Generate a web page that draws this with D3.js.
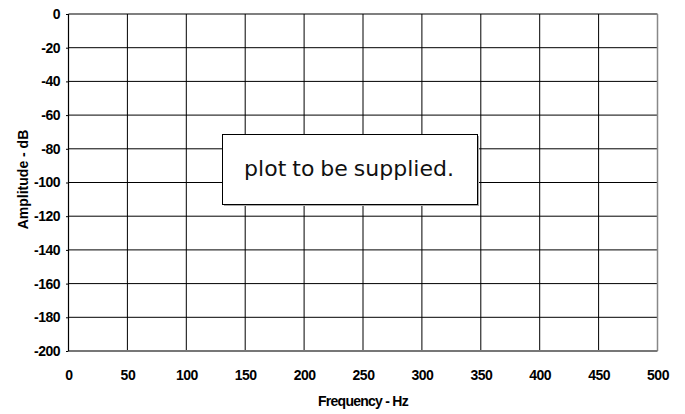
<!DOCTYPE html>
<html><head><meta charset="utf-8">
<script src="https://cdn.jsdelivr.net/npm/d3@7"></script>
<style>
body{margin:0;background:#fff;}
text{font-family:"Liberation Sans",Arial,sans-serif;}
</style></head>
<body><svg id="c" width="685" height="414"></svg>
<script>
const xTicks = [0,50,100,150,200,250,300,350,400,450,500];
const yTicks = [0,-20,-40,-60,-80,-100,-120,-140,-160,-180,-200];
const xTitle = "Frequency - Hz";
const yTitle = "Amplitude - dB";
const note = "plot to be supplied.";

const svg = d3.select("#c");
const m = {l:68.5, r:657.5, t:14, b:351};
const x = d3.scaleLinear().domain([0,500]).range([m.l, m.r]);
const y = d3.scaleLinear().domain([-200,0]).range([m.b, m.t]);
const fmt = d => String(d);

const g = svg.append("g");
g.selectAll(".vg").data(xTicks.slice(1,-1)).join("line")
  .attr("x1",d=>x(d)).attr("x2",d=>x(d)).attr("y1",m.t).attr("y2",m.b)
  .attr("stroke","#000").attr("stroke-width",1);
g.selectAll(".hg").data(yTicks.slice(1,-1)).join("line")
  .attr("x1",m.l).attr("x2",m.r).attr("y1",d=>y(d)).attr("y2",d=>y(d))
  .attr("stroke","#000").attr("stroke-width",1);
g.append("line").attr("x1",m.l).attr("x2",m.r).attr("y1",m.t).attr("y2",m.t).attr("stroke","#000").attr("stroke-width",1.2);
g.append("line").attr("x1",m.r).attr("x2",m.r).attr("y1",m.t).attr("y2",m.b).attr("stroke","#888").attr("stroke-width",1.5);
g.append("line").attr("x1",m.l).attr("x2",m.r).attr("y1",m.b).attr("y2",m.b).attr("stroke","#777").attr("stroke-width",2);

const ya = svg.append("g").attr("transform",`translate(${m.l},0)`)
  .call(d3.axisLeft(y).tickValues(yTicks).tickSize(2.5).tickPadding(6).tickFormat(fmt));
ya.select(".domain").attr("stroke","#000").attr("stroke-width",1.2).attr("d",`M0,${m.t}V${m.b}`);
ya.selectAll(".tick line").attr("stroke","#000");
ya.selectAll(".tick text").style("font-family","'Liberation Sans',Arial,sans-serif")
  .attr("font-size",14).attr("font-weight","bold").attr("letter-spacing","-0.5").attr("fill","#000");

const xa = svg.append("g").attr("transform",`translate(0,${m.b})`)
  .call(d3.axisBottom(x).tickValues(xTicks).tickSize(0).tickPadding(0).tickFormat(fmt));
xa.select(".domain").remove();
xa.selectAll(".tick text").style("font-family","'Liberation Sans',Arial,sans-serif")
  .attr("font-size",14).attr("font-weight","bold").attr("letter-spacing","-0.5").attr("fill","#000")
  .attr("dy",null).attr("y",29);

svg.append("text").attr("x",(m.l+m.r)/2).attr("y",406).attr("text-anchor","middle")
  .attr("font-size",14).attr("font-weight","bold").attr("letter-spacing","-0.75").text(xTitle);
svg.append("text").attr("transform",`translate(28,179.5) rotate(-90)`).attr("text-anchor","middle")
  .attr("font-size",14).attr("font-weight","bold").text(yTitle);

const bx = 222.5, by = 134.5, bw = 255, bh = 70;
svg.append("rect").attr("x",bx+1.5).attr("y",by+1.5).attr("width",bw).attr("height",bh).attr("fill","#aaa");
svg.append("rect").attr("x",bx).attr("y",by).attr("width",bw).attr("height",bh).attr("fill","#fff").attr("stroke","#000").attr("stroke-width",1);
svg.append("text").attr("x",349).attr("y",176).attr("text-anchor","middle")
  .style("font-family","'DejaVu Sans',sans-serif")
  .attr("font-size",22).attr("word-spacing","-1").attr("fill","#111").text(note);
</script></body></html>
